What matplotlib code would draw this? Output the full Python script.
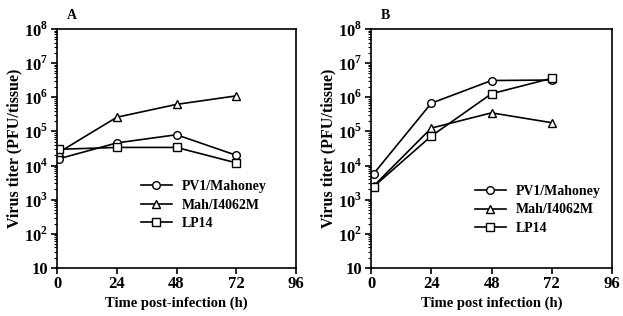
import matplotlib
matplotlib.use('Agg')
import matplotlib.pyplot as plt
import numpy as np

plt.rcParams['font.family'] = 'Liberation Serif'
plt.rcParams['font.weight'] = 'bold'
plt.rcParams['mathtext.fontset'] = 'custom'
plt.rcParams['mathtext.rm'] = 'Liberation Serif:bold'
plt.rcParams['mathtext.bf'] = 'Liberation Serif:bold'

# time points (h)
hours = [1, 24, 48, 72]
series_names = ['PV1/Mahoney', 'Mah/I4062M', 'LP14']
markers = ['o', '^', 's']

# panel A titers (PFU/tissue)
a_pv1 = [1.6e4, 4.6e4, 8.0e4, 2.0e4]
a_mah = [2.5e4, 2.6e5, 6.2e5, 1.1e6]
a_lp14 = [3.0e4, 3.4e4, 3.4e4, 1.2e4]

# panel B titers (PFU/tissue)
b_pv1 = [5.7e3, 6.7e5, 3.1e6, 3.2e6]
b_mah = [2.5e3, 1.25e5, 3.5e5, 1.8e5]
b_lp14 = [2.4e3, 7.3e4, 1.27e6, 3.6e6]

x_ticks = [0, 24, 48, 72, 96]
y_ticks = [1e1, 1e2, 1e3, 1e4, 1e5, 1e6, 1e7, 1e8]
y_ticklabels = ['10'] + [r'$10^{%d}$' % e for e in range(2, 9)]


def draw_panel(ax, data, letter, xlabel, legend_pos):
    for values, name, m in zip(data, series_names, markers):
        ax.plot(hours, values, marker=m, color='black', lw=1.2, ms=5.5,
                mfc='white', mec='black', mew=1.0, label=name)
    ax.set_yscale('log')
    ax.set_xlim(0, 96)
    ax.set_ylim(10, 1e8)
    ax.set_xticks(x_ticks)
    ax.set_xticklabels([str(t) for t in x_ticks], fontsize=12)
    ax.set_yticks(y_ticks)
    ax.set_yticklabels(y_ticklabels, fontsize=12)
    ax.tick_params(axis='both', which='major', direction='out', length=4, width=1.2, pad=2)
    ax.tick_params(axis='y', which='minor', direction='out', length=2.5, width=0.8)
    for s in ax.spines.values():
        s.set_linewidth(1.2)
    ax.set_xlabel(xlabel, fontsize=10.5, fontweight='bold', labelpad=3)
    ax.set_ylabel('Virus titer (PFU/tissue)', fontsize=11.5, fontweight='bold', labelpad=1)
    ax.text(0.04, 1.03, letter, transform=ax.transAxes, fontsize=10, fontweight='bold',
            va='bottom', ha='left')
    leg = ax.legend(loc='upper left', bbox_to_anchor=legend_pos, frameon=False,
                    fontsize=10, handlelength=2.2, handletextpad=0.7, labelspacing=0.4)
    return leg


fig = plt.figure(figsize=(6.23, 3.16), dpi=100)
ax1 = fig.add_axes([57 / 623, 48 / 316, 239 / 623, 239 / 316])
ax2 = fig.add_axes([371 / 623, 48 / 316, 241 / 623, 239 / 316])

draw_panel(ax1, [a_pv1, a_mah, a_lp14], 'A', 'Time post-infection (h)', (0.3, 0.42))
draw_panel(ax2, [b_pv1, b_mah, b_lp14], 'B', 'Time post infection (h)', (0.38, 0.40))

fig.savefig('out.png', dpi=100)
